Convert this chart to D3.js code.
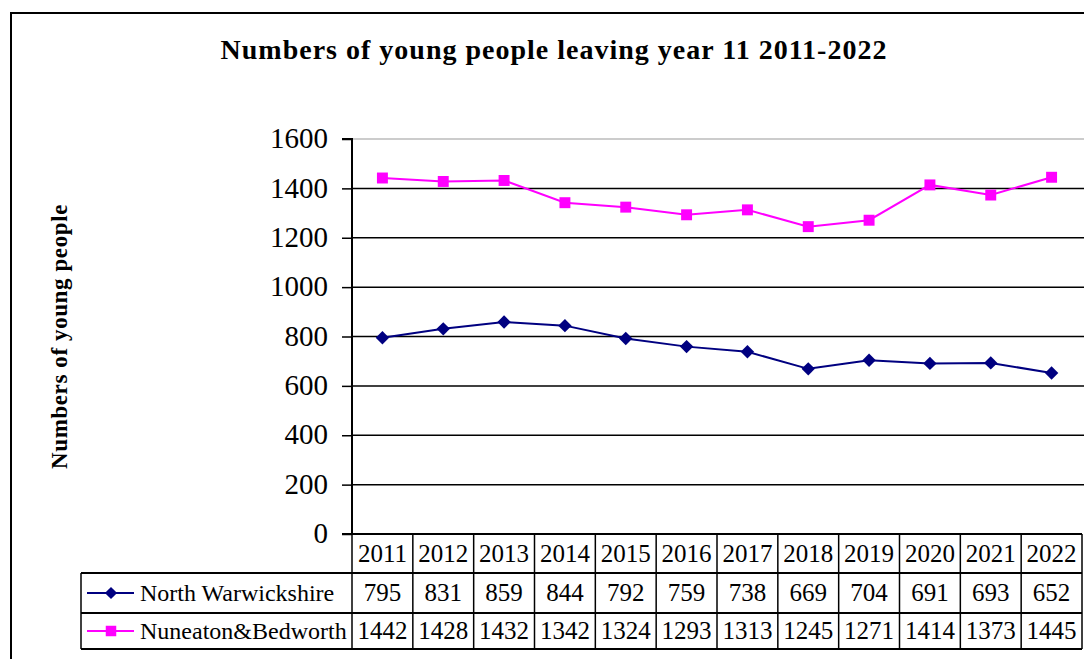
<!DOCTYPE html>
<html>
<head>
<meta charset="utf-8">
<script src="https://cdn.jsdelivr.net/npm/d3@7"></script>
<style>
  body { margin: 0; background: #fff; }
  text { font-family: 'Liberation Serif', serif; fill: #000; }
</style>
</head>
<body>
<svg id="chart"></svg>
<script>
// Data
const years = ['2011', '2012', '2013', '2014', '2015', '2016', '2017', '2018', '2019', '2020', '2021', '2022'];
const northWarwickshire = [795, 831, 859, 844, 792, 759, 738, 669, 704, 691, 693, 652];
const nuneatonBedworth = [1442, 1428, 1432, 1342, 1324, 1293, 1313, 1245, 1271, 1414, 1373, 1445];
const yTicks = [0, 200, 400, 600, 800, 1000, 1200, 1400, 1600];

const series = [
  { name: 'North Warwickshire', values: northWarwickshire, color: '#000080', diamond: true },
  { name: 'Nuneaton&Bedworth', values: nuneatonBedworth, color: '#FF00FF', diamond: false }
];

const width = 1084, height = 659;
const plot = { left: 352, right: 1082, top: 139, bottom: 534 };
const rowH = [39, 40, 36];   // year row, series rows
const legendLeft = 81;

// square marker, rotated 45 degrees for the diamond
const marker = (s, big) => {
  const sym = d3.symbol().type(d3.symbolSquare).size(s.diamond ? (big ? 90 : 75) : (big ? 120 : 110));
  return sym();
};

const svg = d3.select('#chart')
    .attr('width', width)
    .attr('height', height);

// Outer frame
svg.append('path')
    .attr('d', `M11,${height + 5} L11,13 L${width + 5},13`)
    .attr('fill', 'none')
    .attr('stroke', '#000')
    .attr('stroke-width', 2);

// Title
svg.append('text')
    .attr('x', 554)
    .attr('y', 59)
    .attr('text-anchor', 'middle')
    .attr('font-size', 28)
    .attr('letter-spacing', 1)
    .attr('font-weight', 'bold')
    .text('Numbers of young people leaving year 11 2011-2022');

// Scales
const x = d3.scaleBand()
    .domain(years)
    .range([plot.left, plot.right]);

const y = d3.scaleLinear()
    .domain([0, 1600])
    .range([plot.bottom, plot.top]);

// Gridlines
svg.append('g')
    .selectAll('line')
    .data(yTicks.filter(d => d > 0))
    .join('line')
      .attr('x1', plot.left)
      .attr('x2', width)
      .attr('y1', d => y(d))
      .attr('y2', d => y(d))
      .attr('stroke', d => d === 1600 ? '#bbb' : '#000')
      .attr('stroke-width', 1.5);

// Y axis
const yAxis = d3.axisLeft(y)
    .tickValues(yTicks)
    .tickSize(10)
    .tickPadding(14)
    .tickFormat(d3.format('d'));

const yAxisG = svg.append('g')
    .attr('transform', `translate(${plot.left},0)`)
    .call(yAxis);

yAxisG.select('.domain').attr('stroke-width', 2).attr('d', `M-10,${plot.top}H0V${plot.bottom}`);
yAxisG.selectAll('.tick line').attr('stroke-width', 1.5);
yAxisG.selectAll('.tick text')
    .attr('font-size', 29)
    .attr('dy', '0.3em');

// Y axis title
svg.append('text')
    .attr('transform', `translate(67,${(plot.top + plot.bottom) / 2}) rotate(-90)`)
    .attr('text-anchor', 'middle')
    .attr('font-size', 23)
    .attr('letter-spacing', 0.6)
    .attr('font-weight', 'bold')
    .text('Numbers of young people');

// Lines and markers
const line = d3.line()
    .x((d, i) => x(years[i]) + x.bandwidth() / 2)
    .y(d => y(d));

series.forEach(s => {
  svg.append('path')
      .datum(s.values)
      .attr('d', line)
      .attr('fill', 'none')
      .attr('stroke', s.color)
      .attr('stroke-width', 2);

  svg.append('g')
      .selectAll('path')
      .data(s.values)
      .join('path')
        .attr('transform', (d, i) => `translate(${x(years[i]) + x.bandwidth() / 2},${y(d)})` + (s.diamond ? ' rotate(45)' : ''))
        .attr('d', marker(s, true))
        .attr('fill', s.color);
});

// Data table
const rowTop = [plot.bottom, plot.bottom + rowH[0], plot.bottom + rowH[0] + rowH[1]];
const tableBottom = rowTop[2] + rowH[2];
const table = svg.append('g').attr('class', 'table');

// Horizontal lines
table.selectAll('.hline')
    .data([plot.bottom, rowTop[1], rowTop[2], tableBottom])
    .join('line')
      .attr('class', 'hline')
      .attr('x1', (d, i) => i === 0 ? plot.left - 10 : legendLeft)
      .attr('x2', plot.right)
      .attr('y1', d => d)
      .attr('y2', d => d)
      .attr('stroke', '#000')
      .attr('stroke-width', 2);

// Vertical lines
const colEdges = years.map(d => x(d)).concat([plot.right]);
table.selectAll('.vline')
    .data(colEdges)
    .join('line')
      .attr('class', 'vline')
      .attr('x1', d => d)
      .attr('x2', d => d)
      .attr('y1', plot.bottom)
      .attr('y2', tableBottom)
      .attr('stroke', '#000')
      .attr('stroke-width', 1.5);

table.append('line')
    .attr('x1', legendLeft).attr('x2', legendLeft)
    .attr('y1', rowTop[1]).attr('y2', tableBottom)
    .attr('stroke', '#000')
    .attr('stroke-width', 1.5);

// Year labels
table.selectAll('.year')
    .data(years)
    .join('text')
      .attr('class', 'year')
      .attr('x', d => x(d) + x.bandwidth() / 2)
      .attr('y', rowTop[0] + rowH[0] / 2 + 8)
      .attr('text-anchor', 'middle')
      .attr('font-size', 25)
      .text(d => d);

// Series rows
series.forEach((s, si) => {
  const cy = rowTop[si + 1] + rowH[si + 1] / 2;

  table.selectAll(`.val${si}`)
      .data(s.values)
      .join('text')
        .attr('x', (d, i) => x(years[i]) + x.bandwidth() / 2)
        .attr('y', cy + 8)
        .attr('text-anchor', 'middle')
        .attr('font-size', 25)
        .text(d => d);

  // Legend key
  table.append('line')
      .attr('x1', 87).attr('x2', 134)
      .attr('y1', cy).attr('y2', cy)
      .attr('stroke', s.color)
      .attr('stroke-width', 2);

  table.append('path')
      .attr('transform', `translate(111,${cy})` + (s.diamond ? ' rotate(45)' : ''))
      .attr('d', marker(s, false))
      .attr('fill', s.color);

  table.append('text')
      .attr('x', 140)
      .attr('y', cy + 8)
      .attr('font-size', 24)
      .text(s.name);
});
</script>
</body>
</html>
